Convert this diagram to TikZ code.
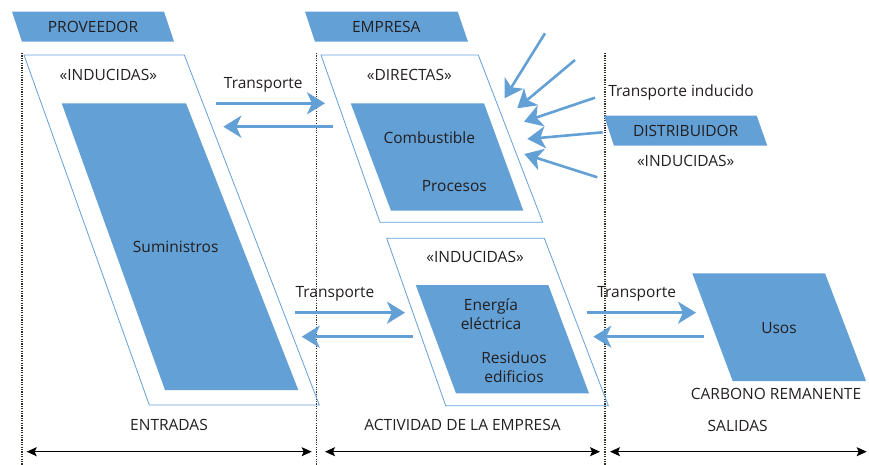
\documentclass[tikz,border=0pt]{standalone}
\usepackage{fontspec}
\setmainfont{Open Sans}
\usetikzlibrary{arrows.meta}
\definecolor{bl}{RGB}{98,160,214}
\definecolor{tx}{RGB}{35,31,32}
\definecolor{dl}{RGB}{50,45,35}
\begin{document}
\begin{tikzpicture}[x=1pt,y=-1pt, font=\fontsize{15.5}{19}\selectfont, text=tx,
  fillbox/.style={fill=bl, draw=none},
  outline/.style={draw=bl, line width=0.8pt},
  bigarrow/.style={draw=bl, line width=2.6pt, -{Stealth[length=18pt,width=22pt,inset=5pt]}},
  spanarrow/.style={line width=1pt, draw=black, {Stealth[length=10pt,width=9pt,inset=2pt]}-{Stealth[length=10pt,width=9pt,inset=2pt]}},
  divider/.style={draw=dl, line width=1.2pt, dash pattern=on 1.2pt off 1.2pt},
  lbl/.style={inner sep=0pt, align=center}]
\useasboundingbox (0,0) rectangle (869,465);

% dividers
\draw[divider] (22,53) -- (22,465);
\draw[divider] (316.5,53) -- (316.5,465);
\draw[divider] (605,53) -- (605,465);

% banners
\fill[bl] (12,11.7) -- (164,11.7) -- (174,41.7) -- (22,41.7) -- cycle;
\fill[bl] (305,11.7) -- (457.7,11.7) -- (468,41.7) -- (315,41.7) -- cycle;
\fill[bl] (604,115.7) -- (756.7,115.7) -- (767.3,145.7) -- (614,145.7) -- cycle;
\node[lbl] (prov) at (93,26.5) {PROVEEDOR};
\node[lbl] (emp) at (386.3,26.5) {EMPRESA};
\node[lbl] (dist) at (685.7,130.5) {DISTRIBUIDOR};

% parallelograms
\draw[outline] (24,55) -- (184.3,55) -- (319.3,405) -- (149.3,405) -- cycle;
\fill[bl] (61.7,103.3) -- (186,103.3) -- (298.3,390) -- (165,390) -- cycle;
\draw[outline] (321,55) -- (478.3,55) -- (542.7,222.3) -- (380,222.3) -- cycle;
\fill[bl] (350.7,103.3) -- (484,103.3) -- (523.3,210.7) -- (391,210.7) -- cycle;
\draw[outline] (386.7,238.3) -- (544.3,238.3) -- (608.3,405.7) -- (445.7,405.7) -- cycle;
\fill[bl] (415.7,285) -- (548.3,285) -- (589,393.3) -- (456,393.3) -- cycle;
\fill[bl] (692.3,273.3) -- (825,273.3) -- (866,381) -- (732.7,381) -- cycle;

% texts
\node[lbl] (indL) at (108.3,75) {«INDUCIDAS»};
\node[lbl] (sum) at (175.7,246.7) {Suministros};
\node[lbl] (dir) at (409.3,75) {«DIRECTAS»};
\node[lbl] (comb) at (429.3,137.7) {Combustible};
\node[lbl] (proc) at (454.3,185.7) {Procesos};
\node[lbl] (indB) at (475,256.7) {«INDUCIDAS»};
\node[lbl] (ener) at (491,314.5) {Energía\\eléctrica};
\node[lbl] (resid) at (514,367.5) {Residuos\\edificios};
\node[lbl] (usos) at (779,327.7) {Usos};
\node[lbl] (carb) at (776,394.3) {CARBONO REMANENTE};
\node[lbl] (entr) at (169,425) {ENTRADAS};
\node[lbl] (act) at (462.5,425) {ACTIVIDAD DE LA EMPRESA};
\node[lbl] (sal) at (737.7,426) {SALIDAS};
\node[lbl] (tind) at (681,92.3) {Transporte inducido};
\node[lbl] (indR) at (685.7,161) {«INDUCIDAS»};
\node[lbl] (t1) at (263.3,85) {Transporte};
\node[lbl] (t2) at (335,294.3) {Transporte};
\node[lbl] (t3) at (636.7,294.3) {Transporte};

% transport arrows
\coordinate (a1s) at (216,103.3);   \coordinate (a1e) at (325,103.3);
\coordinate (a2s) at (333.3,126.7); \coordinate (a2e) at (223.3,126.7);
\coordinate (b1s) at (295,312.7);   \coordinate (b1e) at (405,312.7);
\coordinate (b2s) at (412.7,336.7); \coordinate (b2e) at (301.7,336.7);
\coordinate (c1s) at (586.7,312.7); \coordinate (c1e) at (696,312.7);
\coordinate (c2s) at (704,336.7);   \coordinate (c2e) at (593.3,336.7);
\draw[bigarrow] (a1s) -- (a1e);
\draw[bigarrow] (a2s) -- (a2e);
\draw[bigarrow] (b1s) -- (b1e);
\draw[bigarrow] (b2s) -- (b2e);
\draw[bigarrow] (c1s) -- (c1e);
\draw[bigarrow] (c2s) -- (c2e);

% converging arrows
\coordinate (r1s) at (545,33.3);    \coordinate (r1e) at (504.5,98.3);
\coordinate (r2s) at (575,60);      \coordinate (r2e) at (517.3,108.3);
\coordinate (r3s) at (595,97.7);    \coordinate (r3e) at (524,121.7);
\coordinate (r4s) at (602.7,132.3); \coordinate (r4e) at (527.3,139);
\coordinate (r5s) at (597.3,177.3); \coordinate (r5e) at (524.3,154);
\foreach \i in {1,...,5} \draw[bigarrow] (r\i s) -- (r\i e);

% span arrows
\coordinate (s1a) at (26.7,451.7); \coordinate (s1b) at (311.7,451.7);
\coordinate (s2a) at (325,451.7);  \coordinate (s2b) at (600,451.7);
\coordinate (s3a) at (610,451.7);  \coordinate (s3b) at (866.7,451.7);
\draw[spanarrow] (s1a) -- (s1b);
\draw[spanarrow] (s2a) -- (s2b);
\draw[spanarrow] (s3a) -- (s3b);
\end{tikzpicture}
\end{document}
